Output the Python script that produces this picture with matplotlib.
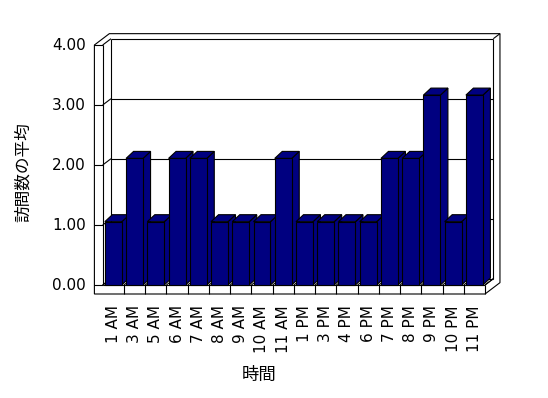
import matplotlib.pyplot as plt
from matplotlib.patches import Polygon

# data
hours = ["1 AM", "3 AM", "5 AM", "6 AM", "7 AM", "8 AM", "9 AM", "10 AM", "11 AM",
         "1 PM", "3 PM", "4 PM", "6 PM", "7 PM", "8 PM", "9 PM", "10 PM", "11 PM"]
visits = [1, 2, 1, 2, 2, 1, 1, 1, 2, 1, 1, 1, 1, 2, 2, 3, 1, 3]
yticks = [0, 1, 2, 3, 4]

n = len(hours)
vmax = 4

# pixel layout -> data units (category width 21.24 px, one value unit 60 px)
PX_X = 21.24
PX_Y = 60.0
DX = 8.3 / PX_X       # depth vector of the walls
DY = 6.3 / PX_Y
BDX = 7.5 / PX_X      # depth vector of the bars
BDY = 7.0 / PX_Y
tw = 8.3 / PX_X       # left wall thickness
ft = 9.0 / PX_Y       # floor thickness
bt = 0.8              # back wall thickness (depth units)
bw = 0.80             # bar width
k = 63.3 / 60         # bars are drawn a bit taller than the front scale (3D look)


def P(x, v, d=0.0):
    return (x + d * DX, v + d * DY)


def line(ax, a, b, z=2):
    ax.plot([a[0], b[0]], [a[1], b[1]], color="black", lw=0.8, zorder=z,
            solid_capstyle="butt")


fig = plt.figure(figsize=(5.48, 3.98), dpi=100)
ax = fig.add_axes([0, 0, 1, 1])
ax.set_xlim(-102.7 / PX_X, (548 - 102.7) / PX_X)
ax.set_ylim(-113 / PX_Y, 285 / PX_Y)
ax.axis("off")

# outer shape of walls + floor
outline = [P(-tw, -ft), P(n, -ft), P(n, -ft, 1 + bt), P(n, vmax, 1 + bt),
           P(-tw, vmax, 1 + bt), P(-tw, vmax)]
ax.add_patch(Polygon(outline, closed=True, facecolor="white",
                     edgecolor="black", lw=0.8, zorder=1))

# left wall
line(ax, P(0, 0), P(0, vmax))
line(ax, P(0, vmax), P(0, vmax, 1))
line(ax, P(0, 0), P(0, 0, 1))
line(ax, P(0, 0, 1), P(0, vmax, 1))
# back wall
line(ax, P(0, vmax, 1), P(n, vmax, 1))
line(ax, P(0, 0, 1), P(n, 0, 1))
line(ax, P(n, 0, 1), P(n, vmax, 1))
line(ax, P(n, vmax, 1), P(n, vmax, 1 + bt))
# floor
line(ax, P(0, 0), P(n, 0))
line(ax, P(n, 0), P(n, -ft))
line(ax, P(n, 0), P(n, 0, 1))
for i in range(1, n):
    line(ax, P(i, 0), P(i, -ft))
for i in range(n + 1):
    line(ax, P(i, 0), P(i, 0, 1))

# gridlines + ticks
for v in yticks:
    line(ax, P(-tw, v), P(0, v))
    if 0 < v < vmax:
        line(ax, P(0, v), P(0, v, 1))
        line(ax, P(0, v, 1), P(n, v, 1))
    ax.text(-tw - 0.4, v, f"{v:.2f}", ha="right", va="center", fontsize=11,
            family="DejaVu Sans")

# bars
navy = "#000080"
for i, val in enumerate(visits):
    x0 = i + (1 - bw) / 2
    x1 = x0 + bw
    h = val * k
    front = [(x0, 0), (x1, 0), (x1, h), (x0, h)]
    top = [(x0, h), (x1, h), (x1 + BDX, h + BDY), (x0 + BDX, h + BDY)]
    side = [(x1, 0), (x1 + BDX, BDY), (x1 + BDX, h + BDY), (x1, h)]
    for face in (side, top, front):
        ax.add_patch(Polygon(face, closed=True, facecolor=navy,
                             edgecolor="black", lw=0.8, zorder=3 + i * 0.01))

# category labels
for i, lab in enumerate(hours):
    ax.text(i + 0.5, -20 / PX_Y, lab, rotation=90, ha="center", va="top",
            fontsize=11, family="DejaVu Sans")

fig.text(259 / 548, 1 - 375 / 398, "時間", ha="center", va="center",
         fontsize=12.5, family=["Noto Sans CJK JP", "DejaVu Sans"])
fig.text(23 / 548, 1 - 172 / 398, "訪問数の平均", ha="center", va="center",
         rotation=90, fontsize=12, family=["Noto Sans CJK JP", "DejaVu Sans"])

fig.savefig("out.png", dpi=100)
